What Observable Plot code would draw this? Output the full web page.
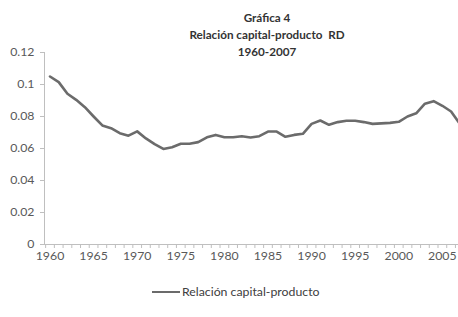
<!DOCTYPE html>
<html><head><meta charset="utf-8">
<script src="https://cdn.jsdelivr.net/npm/d3@7"></script>
<script src="https://cdn.jsdelivr.net/npm/@observablehq/plot@0.6"></script>
<style>
body{margin:0;background:#fff;font-family:Lato,"Open Sans",sans-serif;}
#wrap{position:relative;width:458px;height:317px;overflow:hidden;background:#fff;}
#chart{position:absolute;left:0;top:0;}
#title{position:absolute;left:147px;width:240px;top:9px;text-align:center;font-weight:bold;font-size:11.7px;line-height:17px;color:#333;}
#legend{position:absolute;top:284px;left:152px;display:flex;align-items:center;font-size:12.3px;color:#404040;white-space:nowrap;}
#legend .sw{display:inline-block;width:28px;height:0;border-top:2.6px solid #6b6b6b;margin-right:2px;}
</style>
</head><body>
<div id="wrap">
  <div id="chart"></div>
  <div id="title"></div>
  <div id="legend"></div>
</div>
<script>
const titleLines = ["Gráfica 4", "Relación capital-producto  RD", "1960-2007"];
const seriesName = "Relación capital-producto";
const years = [1960,1961,1962,1963,1964,1965,1966,1967,1968,1969,
               1970,1971,1972,1973,1974,1975,1976,1977,1978,1979,
               1980,1981,1982,1983,1984,1985,1986,1987,1988,1989,
               1990,1991,1992,1993,1994,1995,1996,1997,1998,1999,
               2000,2001,2002,2003,2004,2005,2006,2007];
const ratio = [0.105,0.1015,0.0942,0.0904,0.0858,0.0800,0.0744,0.0727,0.0696,0.0680,
               0.0707,0.0663,0.0627,0.0597,0.0608,0.0630,0.0630,0.0640,0.0670,0.0685,
               0.0670,0.0670,0.0677,0.0669,0.0677,0.0706,0.0706,0.0673,0.0685,0.0692,
               0.0754,0.0775,0.0748,0.0765,0.0773,0.0773,0.0765,0.0754,0.0757,0.0760,
               0.0767,0.0800,0.0820,0.0880,0.0896,0.0867,0.0831,0.0754];
const yTicks = [0,0.02,0.04,0.06,0.08,0.1,0.12];
const yTickLabels = ["0","0.02","0.04","0.06","0.08","0.1","0.12"];
const xTicks = [1960,1965,1970,1975,1980,1985,1990,1995,2000,2005];
const xTickLabels = ["1960","1965","1970","1975","1980","1985","1990","1995","2000","2005"];

const data = years.map((y,i)=>({year:y, value:ratio[i]}));
const boundaries = years.map(y=>y-0.5).concat([years[years.length-1]+0.5]);

document.getElementById("title").innerHTML = titleLines.map(t=>`<div>${t.replace(/  /g,"&nbsp; ")}</div>`).join("");
document.getElementById("legend").innerHTML = `<span class="sw"></span><span>${seriesName}</span>`;

const chart = Plot.plot({
  width: 458, height: 275,
  marginLeft: 44, marginTop: 52, marginBottom: 31, marginRight: 0,
  style: {fontFamily: 'Lato, "Open Sans", sans-serif', fontSize: "12.3px", color: "#595959", background: "transparent", overflow: "visible"},
  x: {type: "linear", domain: [1960, 2007], range: [49.5, 459.3]},
  y: {domain: [0, 0.12]},
  marks: [
    Plot.frame({anchor: "left", stroke: "#bfbfbf"}),
    Plot.frame({anchor: "bottom", stroke: "#bfbfbf"}),
    Plot.axisY(yTicks, {tickSize: 4, tickPadding: 6, stroke: "#bfbfbf", fill: "#595959", tickFormat: d => yTickLabels[yTicks.indexOf(d)], label: null}),
    Plot.axisX(boundaries, {tickSize: 4, stroke: "#bfbfbf", tickFormat: () => "", label: null}),
    Plot.axisX(xTicks, {tickSize: 0, tickPadding: 7, fill: "#595959", tickFormat: d => xTickLabels[xTicks.indexOf(d)], label: null}),
    Plot.lineY(data, {x: "year", y: "value", stroke: "#6b6b6b", strokeWidth: 2.6, strokeLinejoin: "round"})
  ]
});
document.getElementById("chart").appendChild(chart);
</script>
</body></html>
